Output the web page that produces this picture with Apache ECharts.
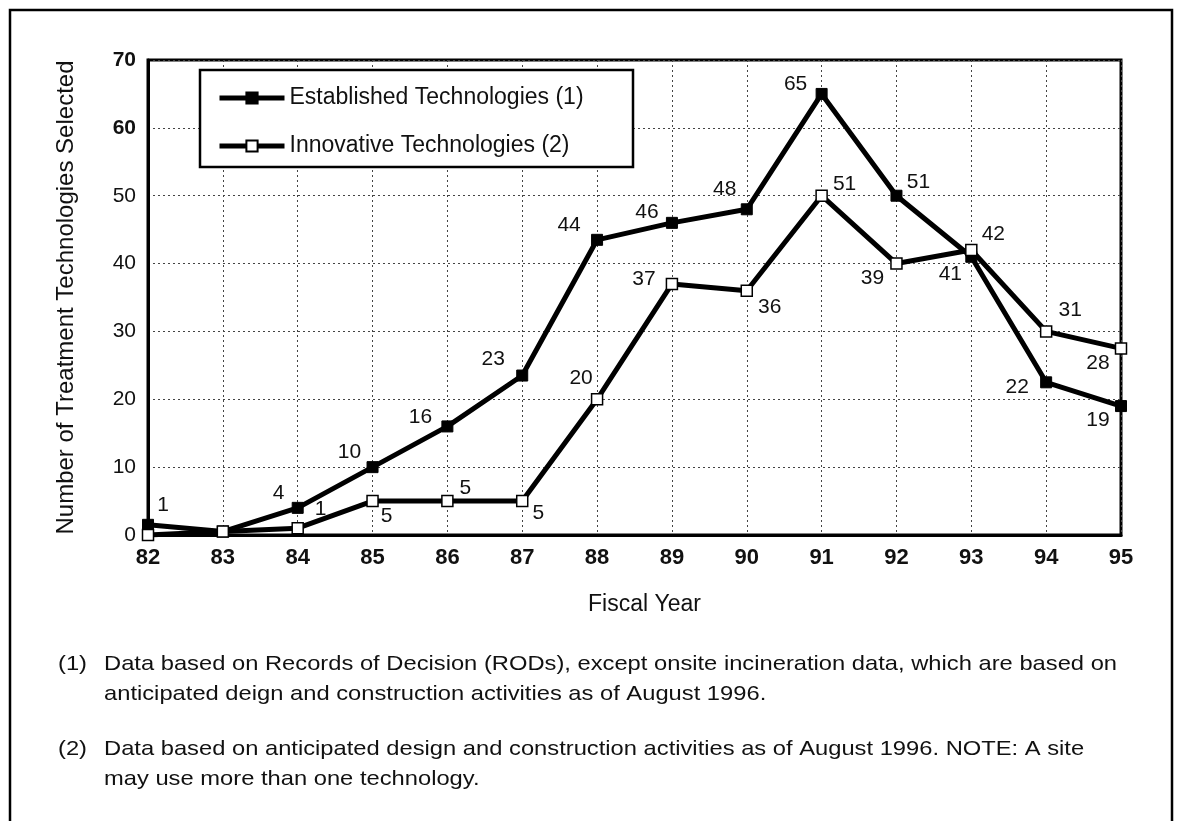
<!DOCTYPE html>
<html>
<head>
<meta charset="utf-8">
<script src="https://cdn.jsdelivr.net/npm/echarts@6/dist/echarts.min.js"></script>
<style>
html,body{margin:0;padding:0;background:#fff;}
#chart{width:1181px;height:821px;}
</style>
</head>
<body>
<div id="chart"></div>
<script>
// ---- data ----
const years = ['82','83','84','85','86','87','88','89','90','91','92','93','94','95'];
const establishedValues = [1.5, 0.5, 4, 10, 16, 23.5, 43.5, 46, 48, 65, 50, 41, 22.5, 19];
const establishedLabels = ['1', '', '4', '10', '16', '23', '44', '46', '48', '65', '51', '41', '22', '19'];
const innovativeValues = [0, 0.5, 1, 5, 5, 5, 20, 37, 36, 50, 40, 42, 30, 27.5];
const innovativeLabels = ['', '', '1', '5', '5', '5', '20', '37', '36', '51', '39', '42', '31', '28'];
const yTicks = [0, 10, 20, 30, 40, 50, 60, 70];
const seriesNames = ['Established Technologies (1)', 'Innovative Technologies (2)'];
const footnote1a = '(1)';
const footnote1b = 'Data based on Records of Decision (RODs), except onsite incineration data, which are based on';
const footnote1c = 'anticipated deign and construction activities as of August 1996.';
const footnote2a = '(2)';
const footnote2b = 'Data based on anticipated design and construction activities as of August 1996. NOTE: A site';
const footnote2c = 'may use more than one technology.';

// ---- label placement (style only) ----
const estOffsets = [[15,-20],[0,0],[-19,-15],[-23,-15],[-27,-9],[-29,-16],[-28,-15],[-25,-11],[-22,-20],[-26,-10],[22,-14],[-21,17],[-29,5],[-23,14]];
const innOffsets = [[0,0],[0,0],[23,-19],[14,15],[18,-13],[16,12],[-16,-21],[-28,-5],[23,16],[23,-12],[-24,15],[22,-16],[24,-21],[-23,15]];

const FONT = '"Liberation Sans", Arial, Helvetica, sans-serif';
const WIDE = 1.13;

function buildData(values, labels, offsets) {
  return values.map((v, i) => ({
    value: v,
    label: labels[i] === '' ? { show: false } : {
      show: true, position: 'inside', offset: offsets[i],
      formatter: labels[i], color: '#111', fontSize: 21, fontFamily: FONT
    }
  }));
}

function note(text, left, top) {
  return { type: 'text', left: left, top: top, scaleX: WIDE,
    style: { text: text, font: '21px ' + FONT, fill: '#111' } };
}

const chart = echarts.init(document.getElementById('chart'), null, { renderer: 'canvas' });

const option = {
  backgroundColor: '#fff',
  animation: false,
  grid: {
    left: 148, right: 60, top: 60, bottom: 286,
    show: true, borderColor: '#000', borderWidth: 3, backgroundColor: 'transparent'
  },
  legend: {
    data: seriesNames,
    orient: 'vertical',
    left: 212, top: 81,
    itemWidth: 65, itemHeight: 14, itemGap: 24,
    lineStyle: { width: 5, color: '#000' },
    textStyle: { fontSize: 23, fontFamily: FONT, color: '#111', lineHeight: 24 },
    z: 10
  },
  graphic: [
    { type: 'rect', z: 3, shape: { x: 10, y: 10, width: 1162, height: 900 },
      style: { fill: 'none', stroke: '#000', lineWidth: 2.5 } },
    { type: 'rect', z: 5, shape: { x: 200, y: 70, width: 433, height: 97 },
      style: { fill: '#fff', stroke: '#000', lineWidth: 2.5 } },
    note(footnote1a, 58, 654),
    note(footnote1b, 104, 654),
    note(footnote1c, 104, 684),
    note(footnote2a, 58, 739),
    note(footnote2b, 104, 739),
    note(footnote2c, 104, 769)
  ],
  xAxis: {
    type: 'category',
    data: years,
    boundaryGap: false,
    name: 'Fiscal Year',
    nameLocation: 'middle',
    nameGap: 58,
    nameTextStyle: { fontSize: 23, fontFamily: FONT, color: '#111', padding: [0, 0, 0, 20] },
    axisLine: { show: true, lineStyle: { color: '#000', width: 3 } },
    axisTick: { show: false },
    axisLabel: { fontSize: 22, fontWeight: 'bold', fontFamily: FONT, color: '#111', margin: 12 },
    splitLine: { show: true, lineStyle: { color: '#444', width: 1, type: [2, 3] } }
  },
  yAxis: {
    type: 'value',
    min: 0, max: 70, interval: 10,
    name: 'Number of Treatment Technologies Selected',
    nameLocation: 'middle',
    nameGap: 70,
    nameTextStyle: { fontSize: 24, fontFamily: FONT, color: '#111' },
    axisLine: { show: true, lineStyle: { color: '#000', width: 3 } },
    axisTick: { show: false },
    axisLabel: {
      margin: 12,
      formatter: function (v) {
        if (yTicks.indexOf(v) < 0) return '';
        return (v >= 60 ? '{b|' : '{n|') + v + '}';
      },
      rich: {
        b: { fontSize: 21, fontWeight: 'bold', fontFamily: FONT, color: '#111' },
        n: { fontSize: 21, fontFamily: FONT, color: '#111' }
      }
    },
    splitLine: { show: true, lineStyle: { color: '#444', width: 1, type: [2, 3] } }
  },
  series: [
    {
      name: seriesNames[0],
      type: 'line',
      data: buildData(establishedValues, establishedLabels, estOffsets),
      symbol: 'rect', symbolSize: 11,
      clip: false,
      lineStyle: { color: '#000', width: 5 },
      itemStyle: { color: '#000', borderColor: '#000', borderWidth: 1 },
      z: 2
    },
    {
      name: seriesNames[1],
      type: 'line',
      data: buildData(innovativeValues, innovativeLabels, innOffsets),
      symbol: 'rect', symbolSize: 11,
      clip: false,
      lineStyle: { color: '#000', width: 5 },
      itemStyle: { color: '#fff', borderColor: '#000', borderWidth: 1.5 },
      z: 3
    }
  ]
};
chart.setOption(option);
</script>
</body>
</html>
